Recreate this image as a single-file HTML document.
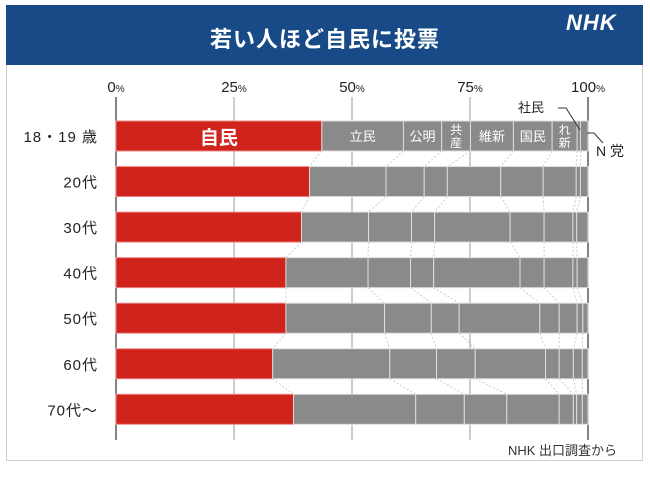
<!DOCTYPE html>
<html><head><meta charset="utf-8">
<style>
html,body{margin:0;padding:0;background:#fff;}
body{width:650px;height:477px;position:relative;overflow:hidden;font-family:"Liberation Sans","Noto Sans CJK JP",sans-serif;}
#frame{position:absolute;left:6px;top:5px;width:637px;height:456px;border:1px solid #cfcfcf;box-sizing:border-box;}
#header{position:absolute;left:6px;top:5px;width:637px;height:60px;background:#174a86;}
#title{position:absolute;left:0;width:650px;top:22px;text-align:center;color:#fff;font-size:22px;font-weight:bold;letter-spacing:1px;}
#logo{position:absolute;left:566px;top:10px;color:#fff;font-size:22px;font-weight:bold;font-style:italic;letter-spacing:1px;}
#src{position:absolute;left:508px;top:440px;font-size:13px;color:#333;}
</style></head><body>
<div id="frame"></div>
<div id="header"></div>
<div id="title">若い人ほど自民に投票</div>
<div id="logo">NHK</div>
<svg id="chart" width="650" height="477" style="position:absolute;left:0;top:0"></svg>
<div id="src">NHK 出口調査から</div>
<script>
const categories = ["18・19 歳","20代","30代","40代","50代","60代","70代〜"];
const parties = ["自民","立民","公明","共産","維新","国民","れ新","社民","N党"];
const ldp  = [43.6,41.0,39.3,36.0,36.0,33.2,37.6];
const cdp  = [17.3,16.2,14.2,17.4,20.9,24.8,25.9];
const komei= [8.1,8.1,9.1,9.0,9.9,9.9,10.3];
const jcp  = [6.1,4.9,4.9,4.9,5.9,8.2,9.0];
const ishin= [9.1,11.3,16.0,18.3,17.1,14.9,11.1];
const dpfp = [8.2,9.0,7.2,5.1,4.1,2.9,3.0];
const reiwa= [5.3,7.0,6.1,6.1,3.8,3.0,0.7];
const sdp  = [0.7,0.9,0.8,0.9,1.2,1.9,1.2];
const nhkp = [1.6,1.6,2.4,2.3,1.1,1.2,1.2];
const ticks = [0,25,50,75,100];
const series=[ldp,cdp,komei,jcp,ishin,dpfp,reiwa,sdp,nhkp];
const NS="http://www.w3.org/2000/svg";
const svg=document.getElementById('chart');
const x=v=>116+v*4.72;
const barY=i=>121+i*45.55;
const BH=30;
function el(t,a,p){const e=document.createElementNS(NS,t);for(const k in a)e.setAttribute(k,a[k]);(p||svg).appendChild(e);return e;}
ticks.forEach(t=>{
  const g=el('line',{x1:x(t),x2:x(t),y1:97,y2:440,stroke:t===0||t===100?'#333':'#bbb','stroke-width':t===0||t===100?1.2:1.5});
  
  
  const tx=el('text',{x:x(t),y:92,'text-anchor':'middle','font-size':15,fill:'#222'});
  
  
  tx.innerHTML=t+'<tspan font-size="10">%</tspan>';
});
const cum=categories.map((c,i)=>{let s=0;const a=[0];series.forEach(sr=>{s+=sr[i];a.push(s);});return a;});
categories.forEach((c,i)=>{
  const y=barY(i);
  series.forEach((sr,k)=>{
    const r=el('rect',{x:x(cum[i][k]),y:y,width:Math.max(0,x(cum[i][k+1])-x(cum[i][k])),height:BH,fill:k===0?'#d0231b':'#8a8a8a',stroke:k===0?'#e88':'#ddd','stroke-width':1});
    
    
  });
  const lb=el('text',{x:98,y:y+21,'text-anchor':'end','font-size':15,fill:'#222','letter-spacing':1});
  
  
  lb.textContent=c;
  if(i<categories.length-1){
    for(let k=1;k<series.length;k++){
      const d=el('line',{x1:x(cum[i][k]),y1:y+BH,x2:x(cum[i+1][k]),y2:barY(i+1),stroke:'#ccc','stroke-dasharray':'2,2','stroke-width':1});
      
      
    }
  }
});
const y0=barY(0);
function mid(k){return (x(cum[0][k])+x(cum[0][k+1]))/2;}
[[0,'自民',19,23],[1,'立民',13,20],[2,'公明',13,20],[4,'維新',13,20],[5,'国民',13,20]].forEach(([k,t,fs,dy])=>{
  const e=el('text',{x:mid(k),y:y0+dy,'text-anchor':'middle','font-size':fs,fill:'#fff','font-weight':k===0?'bold':'normal'});
  
  
  e.textContent=t;
});
[[3,'共','産'],[6,'れ','新']].forEach(([k,a,b])=>{
  const e=el('text',{x:mid(k),y:y0+13,'text-anchor':'middle','font-size':12,fill:'#fff'});
  
  
  e.innerHTML='<tspan x="'+mid(k)+'">'+a+'</tspan><tspan x="'+mid(k)+'" dy="13">'+b+'</tspan>';
});
const s1=el('text',{x:518,y:112,'font-size':13,fill:'#222'});


s1.textContent='社民';
const l1=el('polyline',{points:'558,108 566,108 580,130',fill:'none',stroke:'#333','stroke-width':1});


const s2=el('text',{x:596,y:156,'font-size':14,fill:'#222'});


s2.textContent='N 党';
const l2=el('polyline',{points:'587,133 594,133 603,143',fill:'none',stroke:'#333','stroke-width':1});


</script>
</body></html>
